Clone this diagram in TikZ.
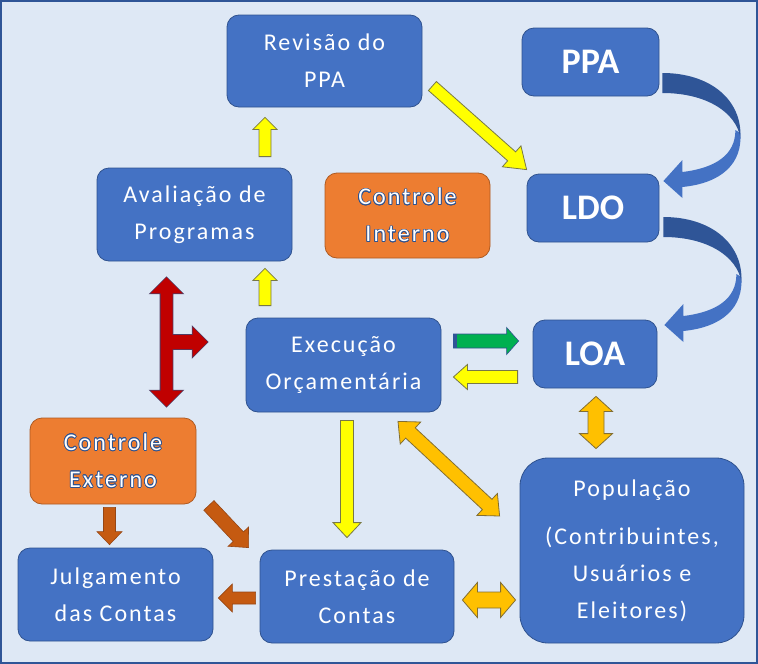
\documentclass[tikz,border=0pt]{standalone}
\usepackage{fontspec}
\setmainfont{Carlito}
\newfontfamily\spacedfont{Carlito}[LetterSpace=8.5]
\usepackage[copies]{contour}
\usetikzlibrary{calc}

\definecolor{bgblue}{RGB}{222,232,245}
\definecolor{frameblue}{RGB}{47,85,151}
\definecolor{boxblue}{RGB}{68,114,196}
\definecolor{boxline}{RGB}{47,82,143}
\definecolor{boxorange}{RGB}{237,125,49}
\definecolor{orangeline}{RGB}{174,90,33}
\definecolor{arryellow}{RGB}{255,255,0}
\definecolor{yelline}{RGB}{120,120,70}
\definecolor{arrgold}{RGB}{255,192,0}
\definecolor{goldline}{RGB}{130,110,50}
\definecolor{arrgreen}{RGB}{0,176,80}
\definecolor{arrbrown}{RGB}{197,90,17}
\definecolor{brownline}{RGB}{150,70,20}
\definecolor{arrred}{RGB}{192,0,0}
\definecolor{redline}{RGB}{80,60,100}
\definecolor{curvedark}{RGB}{47,85,151}

\contourlength{.7pt}

\tikzset{
  % block arrow: shaft half width / head half width / head length
  sarrow/.style n args={3}{to path={
    -- ($(\tikztostart)!#1!90:(\tikztotarget)$)
    -- ($(\tikztotarget)!#3!(\tikztostart)!#1!90:(\tikztotarget)$)
    -- ($(\tikztotarget)!#3!(\tikztostart)!#2!90:(\tikztotarget)$)
    -- (\tikztotarget)
    -- ($(\tikztotarget)!#3!(\tikztostart)!#2!-90:(\tikztotarget)$)
    -- ($(\tikztotarget)!#3!(\tikztostart)!#1!-90:(\tikztotarget)$)
    -- ($(\tikztostart)!#1!-90:(\tikztotarget)$)
    -- cycle}},
  darrow/.style n args={3}{to path={
    -- ($(\tikztostart)!#3!(\tikztotarget)!#2!90:(\tikztotarget)$)
    -- ($(\tikztostart)!#3!(\tikztotarget)!#1!90:(\tikztotarget)$)
    -- ($(\tikztotarget)!#3!(\tikztostart)!#1!90:(\tikztotarget)$)
    -- ($(\tikztotarget)!#3!(\tikztostart)!#2!90:(\tikztotarget)$)
    -- (\tikztotarget)
    -- ($(\tikztotarget)!#3!(\tikztostart)!#2!-90:(\tikztotarget)$)
    -- ($(\tikztotarget)!#3!(\tikztostart)!#1!-90:(\tikztotarget)$)
    -- ($(\tikztostart)!#3!(\tikztotarget)!#1!-90:(\tikztotarget)$)
    -- ($(\tikztostart)!#3!(\tikztotarget)!#2!-90:(\tikztotarget)$)
    -- cycle}},
  bendarrow/.pic={
    \fill[boxblue] (73,57) .. controls (73,82) and (53,95) .. (20,99) -- (20,87) -- (1,108)
      -- (20,125) -- (20,114) .. controls (60,110) and (80,90) .. (78,60) -- cycle;
    \fill[curvedark] (0,0) .. controls (48,0) and (80,27) .. (78,65)
      .. controls (74,40) and (45,20) .. (0,20) -- cycle;
  }
}

\begin{document}
\begin{tikzpicture}[x=1pt,y=-1pt,font=\spacedfont\fontsize{24}{37}\selectfont]
  \tikzstyle{box}=[rectangle,rounded corners=12pt,fill=boxblue,draw=boxline,line width=.8pt,
                   text=white,align=center,inner sep=0pt]
  \tikzstyle{ctrl}=[box,fill=boxorange,draw=orangeline]
  \tikzstyle{big}=[box,font=\normalfont\bfseries\fontsize{36}{40}\selectfont]
  \tikzstyle{yel}=[fill=arryellow,draw=yelline,line width=.8pt]
  \tikzstyle{gold}=[fill=arrgold,draw=goldline,line width=.8pt]
  \tikzstyle{brown}=[fill=arrbrown,draw=brownline,line width=.6pt]

  \useasboundingbox (0,0) rectangle (758,664);
  \draw[fill=bgblue,draw=frameblue,line width=2pt] (1,1) rectangle (757,663);

  \node[box,minimum width=195pt,minimum height=92pt] (rev) at (324.5,61) {Revisão do\\PPA};
  \node[big,minimum width=137pt,minimum height=68pt] (ppa) at (590.5,62) {PPA};
  \node[big,minimum width=132pt,minimum height=68pt] (ldo) at (593,208) {LDO};
  \node[box,minimum width=195pt,minimum height=93pt] (aval) at (194.5,214.5) {Avaliação de\\Programas};
  \node[ctrl,minimum width=165pt,minimum height=85pt] (cint) at (407.5,215.5)
       {\contour{boxline}{Controle}\\\contour{boxline}{Interno}};
  \node[box,minimum width=195pt,minimum height=94pt] (exec) at (343.5,365) {Execução\\Orçamentária};
  \node[big,minimum width=124pt,minimum height=68pt] (loa) at (595,354) {LOA};
  \node[ctrl,minimum width=166pt,minimum height=86pt] (cext) at (113,461)
       {\contour{boxline}{Controle}\\\contour{boxline}{Externo}};
  \node[box,minimum width=195pt,minimum height=93pt] (julg) at (115.5,594.5) {Julgamento\\das Contas};
  \node[box,minimum width=194pt,minimum height=93pt] (prest) at (357,596.5) {Prestação de\\Contas};
  \node[box,rounded corners=28pt,minimum width=224pt,minimum height=185pt] (pop) at (632,550.5)
       {População\\[11pt](Contribuintes,\\Usuários e\\Eleitores)};

  % curved arrows PPA -> LDO -> LOA
  \path ([shift={(3,11)}]ppa.east) pic {bendarrow};
  \path ([shift={(4,9)}]ldo.east) pic {bendarrow};

  % yellow
  \path[yel] ([shift={(70.5,-11)}]aval.north) to[sarrow={6pt}{12pt}{12pt}] ([shift={(-59.5,10)}]rev.south);
  \path[yel] ([shift={(-78.5,-12)}]exec.north) to[sarrow={6pt}{12pt}{12pt}] ([shift={(70.5,7)}]aval.south);
  \path[yel] ([shift={(10,25)}]rev.east) to[sarrow={6pt}{14pt}{20pt}] ([shift={(0,-4)}]ldo.north west);
  \path[yel] ([shift={(-15,23)}]loa.west) to[sarrow={6.5pt}{12.5pt}{14pt}] ([shift={(12,12)}]exec.east);
  \path[yel] ([shift={(3.5,8)}]exec.south) to[sarrow={6.5pt}{14pt}{15pt}] ([shift={(-10,-12)}]prest.north);

  % green
  \path[fill=arrgreen,draw=boxline,line width=.6pt]
    ([shift={(12,-24)}]exec.east) to[sarrow={7pt}{13.5pt}{12pt}] ([shift={(-14,-13)}]loa.west);
  \draw[curvedark,line width=4pt] ([shift={(14,-31)}]exec.east) -- ++(0,14);

  % gold
  \path[gold] ([shift={(1,8)}]loa.south) to[darrow={8pt}{16.5pt}{15pt}] ([shift={(-36,-9)}]pop.north);
  \path[gold] ([shift={(54.5,9)}]exec.south) to[darrow={7pt}{15pt}{17pt}] ([shift={(-20,-34.5)}]pop.west);
  \path[gold] ([shift={(8,3.5)}]prest.east) to[darrow={8pt}{17.5pt}{15pt}] ([shift={(-4,49.5)}]pop.west);

  % brown
  \path[brown] ([shift={(-3.5,3)}]cext.south) to[sarrow={6pt}{12.5pt}{13pt}] ([shift={(-6,-3)}]julg.north);
  \path[brown] ([shift={(12.5,1)}]cext.south east) to[sarrow={7pt}{14pt}{15pt}] ([shift={(-11,-2)}]prest.north west);
  \path[brown] ([shift={(-4,1.5)}]prest.west) to[sarrow={6pt}{14pt}{14pt}] ([shift={(5,3.5)}]julg.east);

  % red
  \path[draw=redline,line width=1.6pt]
    ([shift={(-28,16)}]aval.south) to[darrow={6pt}{16pt}{16pt}] ([shift={(53.5,-11)}]cext.north)
    ([shift={(-79.5,-23)}]exec.west) to[sarrow={7pt}{15pt}{15pt}] ([shift={(-38,-23)}]exec.west);
  \path[fill=arrred]
    ([shift={(-28,16)}]aval.south) to[darrow={6pt}{16pt}{16pt}] ([shift={(53.5,-11)}]cext.north)
    ([shift={(-79.5,-23)}]exec.west) to[sarrow={7pt}{15pt}{15pt}] ([shift={(-38,-23)}]exec.west);
\end{tikzpicture}
\end{document}
